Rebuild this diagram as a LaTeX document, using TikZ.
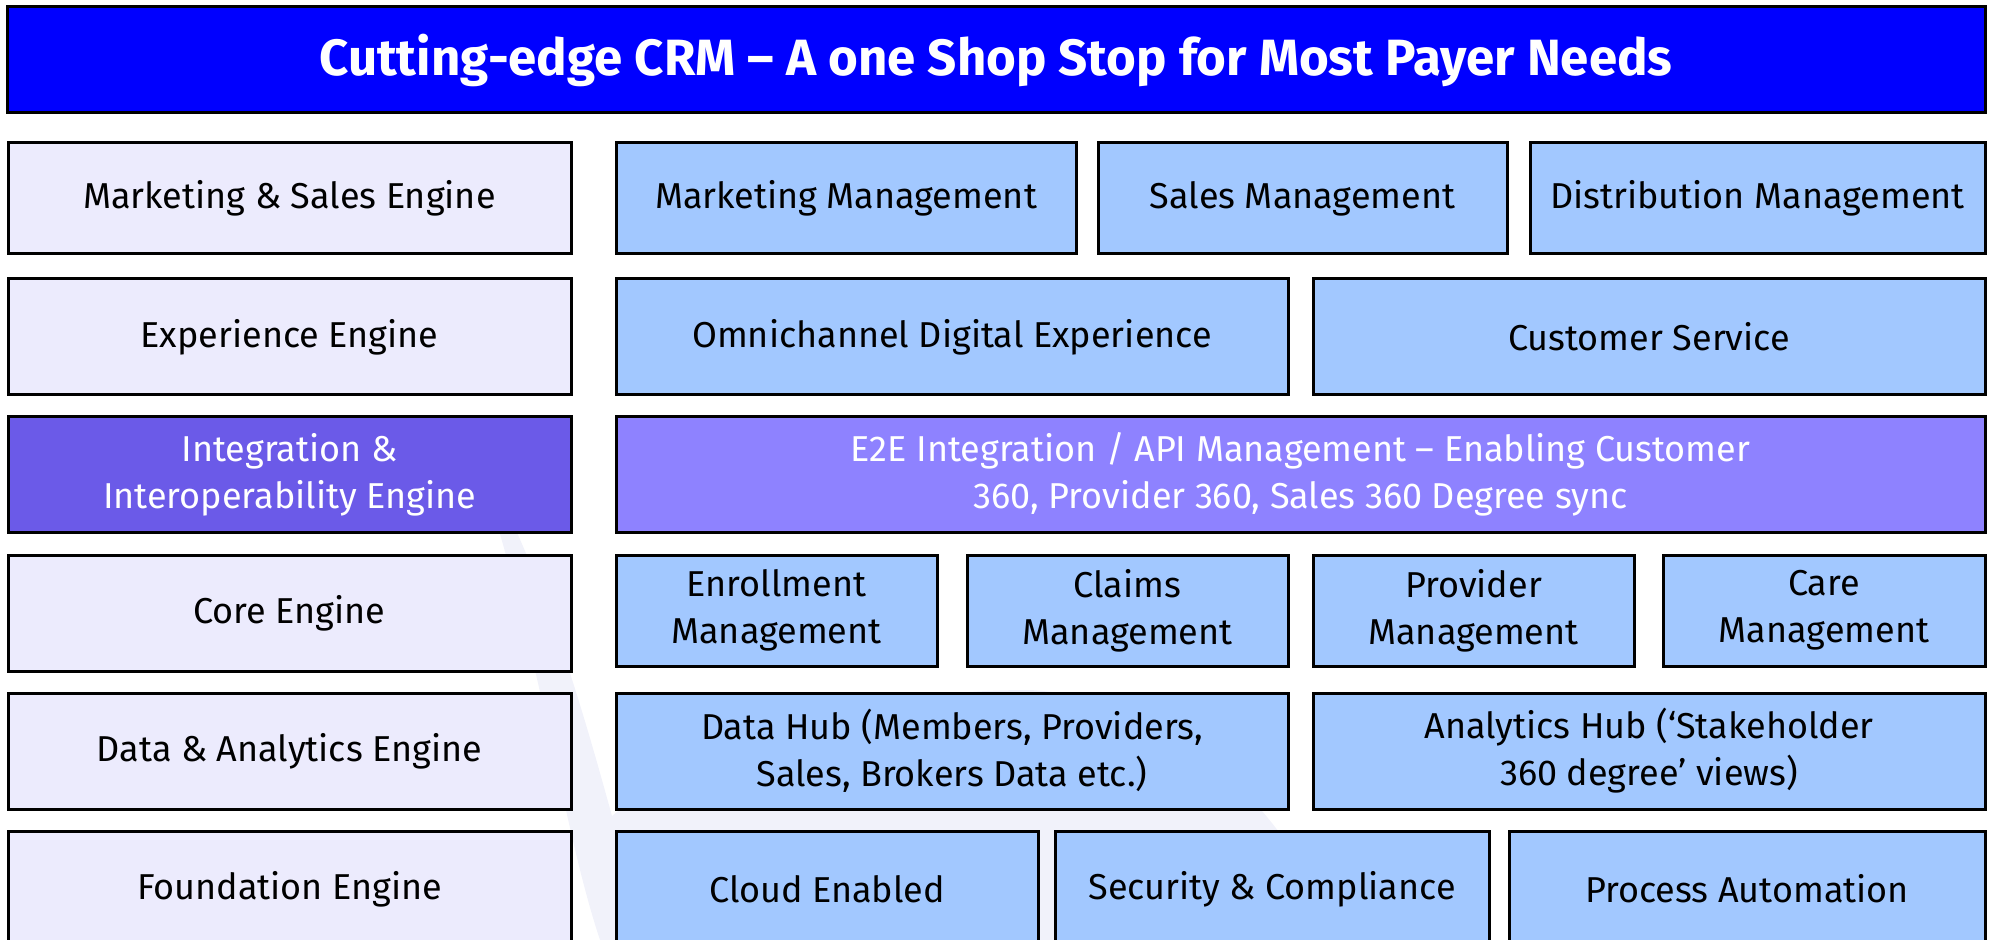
\documentclass[tikz,border=0pt]{standalone}
\usepackage{fontspec}
\setmainfont{Fira Sans}
\usepackage{tikz}
\definecolor{titleblue}{RGB}{0, 0, 255}
\definecolor{lavender}{RGB}{236, 235, 253}
\definecolor{skyblue}{RGB}{162, 200, 255}
\definecolor{violet}{RGB}{107, 90, 232}
\definecolor{lilac}{RGB}{142, 130, 255}
\definecolor{watermark}{RGB}{241, 242, 250}
\tikzset{%
    box/.style={draw=black, line width=1.5pt, align=center, inner sep=0pt,
        font=\fontsize{18}{23.5}\selectfont},
    banner/.style={box, fill=titleblue, text=white,
        font=\fontsize{25.5}{30}\selectfont\bfseries},
    engine/.style={box, fill=lavender, minimum width=281.5pt},
    module/.style={box, fill=skyblue},
    linkengine/.style={engine, fill=violet, text=white},
    linkmodule/.style={box, fill=lilac, text=white}
}

\begin{document}
\begin{tikzpicture}[x=0.5pt, y=-0.5pt]

    \useasboundingbox (0, 0) rectangle (1989, 940);

    % Watermark
    \fill[watermark] (470, 440) .. controls (540, 640) and (560, 820) .. (600, 940)
        -- (1340, 940) .. controls (1300, 840) and (1200, 700) .. (1030, 690)
        .. controls (820, 690) and (680, 760) .. (612, 816)
        .. controls (580, 700) and (540, 560) .. (470, 440);

    % Title
    \node[banner, minimum width=989pt, minimum height=53pt] (title) at (996, 60)
        {Cutting-edge CRM -- A one Shop Stop for Most Payer Needs};

    % Engines
    \node[engine, minimum height=55.5pt] (sales) at (289.5, 198.5)
        {Marketing \& Sales Engine};
    \node[engine, minimum height=58pt] (experience) at (289.5, 337)
        {Experience Engine};
    \node[linkengine, minimum height=57.5pt] (interop) at (289.5, 474.5)
        {Integration \&\\Interoperability Engine};
    \node[engine, minimum height=58pt] (core) at (289.5, 613)
        {Core Engine};
    \node[engine, minimum height=58pt] (analytics) at (289.5, 751)
        {Data \& Analytics Engine};
    \node[engine, minimum height=58pt] (foundation) at (289.5, 889)
        {Foundation Engine};

    % Marketing & sales
    \node[module, minimum width=230pt, minimum height=55.5pt] (marketingmgmt)
        at (846, 198.5) {Marketing Management};
    \node[module, minimum width=204.5pt, minimum height=55.5pt] (salesmgmt)
        at (1302.5, 198.5) {Sales Management};
    \node[module, minimum width=227.5pt, minimum height=55.5pt] (distmgmt)
        at (1757.5, 198.5) {Distribution Management};

    % Experience
    \node[module, minimum width=336pt, minimum height=58pt] (omni)
        at (952, 337) {Omnichannel Digital Experience};
    \node[module, minimum width=336pt, minimum height=58pt] (service)
        at (1649, 337) {Customer Service};

    % Integration
    \node[linkmodule, minimum width=684.5pt, minimum height=57.5pt] (api)
        at (1300.5, 474.5)
        {E2E Integration / API Management -- Enabling Customer\\
         360, Provider 360, Sales 360 Degree sync};

    % Core
    \node[module, minimum width=160.5pt, minimum height=55.5pt] (enrollment)
        at (776.5, 610.5) {Enrollment\\Management};
    \node[module, minimum width=160.5pt, minimum height=55.5pt] (claims)
        at (1127.5, 610.5) {Claims\\Management};
    \node[module, minimum width=160.5pt, minimum height=55.5pt] (provider)
        at (1473.5, 610.5) {Provider\\Management};
    \node[module, minimum width=161pt, minimum height=55.5pt] (care)
        at (1824, 610.5) {Care\\Management};

    % Data & analytics
    \node[module, minimum width=336pt, minimum height=58pt] (datahub)
        at (952, 751) {Data Hub (Members, Providers,\\Sales, Brokers Data etc.)};
    \node[module, minimum width=336pt, minimum height=58pt] (analyticshub)
        at (1649, 751) {Analytics Hub (‘Stakeholder\\360 degree’ views)};

    % Foundation
    \node[module, minimum width=211pt, minimum height=58pt] (cloud)
        at (827, 889) {Cloud Enabled};
    \node[module, minimum width=217pt, minimum height=58pt] (security)
        at (1272, 889) {Security \& Compliance};
    \node[module, minimum width=238pt, minimum height=58pt] (automation)
        at (1747, 889) {Process Automation};

\end{tikzpicture}
\end{document}
